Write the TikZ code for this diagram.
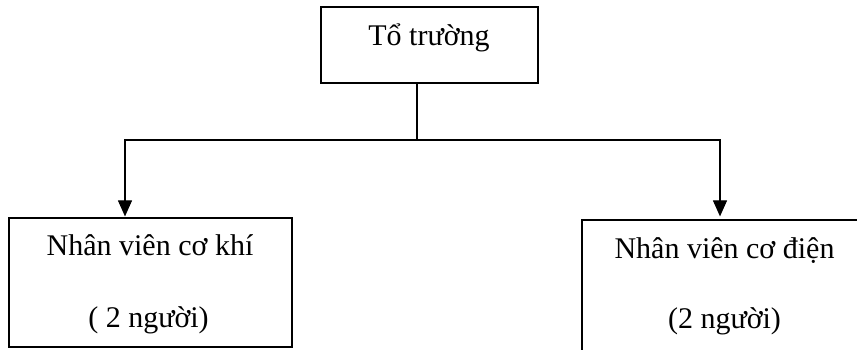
\documentclass[tikz,border=0pt]{standalone}
\usepackage{fontspec}
\setmainfont{Liberation Serif}
\usepackage{tikz}
\usetikzlibrary{arrows.meta}

\begin{document}
\begin{tikzpicture}[font=\fontsize{30}{36}\selectfont,
  box/.style={draw, line width=1.2pt, inner sep=0pt},
  link/.style={line width=1.1pt},
  arr/.style={link, -{Triangle[width=14pt,length=16pt]}}]
\useasboundingbox (0,0) rectangle (857pt,-349pt);
\clip (0,0) rectangle (857pt,-349pt);
% boxes
\node[box, minimum width=217pt, minimum height=76pt]  (lead) at (429.5pt,-45pt)    {};
\node[box, minimum width=283pt, minimum height=129pt] (mech) at (150.5pt,-282.5pt) {};
\node[box, minimum width=298pt, minimum height=140pt] (elec) at (731pt,-290pt)     {};
% texts
\node[anchor=base, inner sep=0pt] (leadt)  at (429pt,-45pt)  {Tổ trường};
\node[anchor=base, inner sep=0pt] (mecht1) at (150pt,-255pt) {Nhân viên cơ khí};
\node[anchor=base, inner sep=0pt] (mecht2) at (148.5pt,-327pt) {( 2 người)};
\node[anchor=base, inner sep=0pt] (elect1) at (724.5pt,-258pt) {Nhân viên cơ điện};
\node[anchor=base, inner sep=0pt] (elect2) at (724.5pt,-328pt) {(2 người)};
% links
\coordinate (fork) at (417pt,-140pt);
\draw[link] ([xshift=-12.5pt]lead.south) -- (fork);
\draw[arr] (fork) -| ([xshift=-25.5pt,yshift=1pt]mech.north);
\draw[arr] (fork) -| ([xshift=-11pt,yshift=3pt]elec.north);
\end{tikzpicture}
\end{document}
